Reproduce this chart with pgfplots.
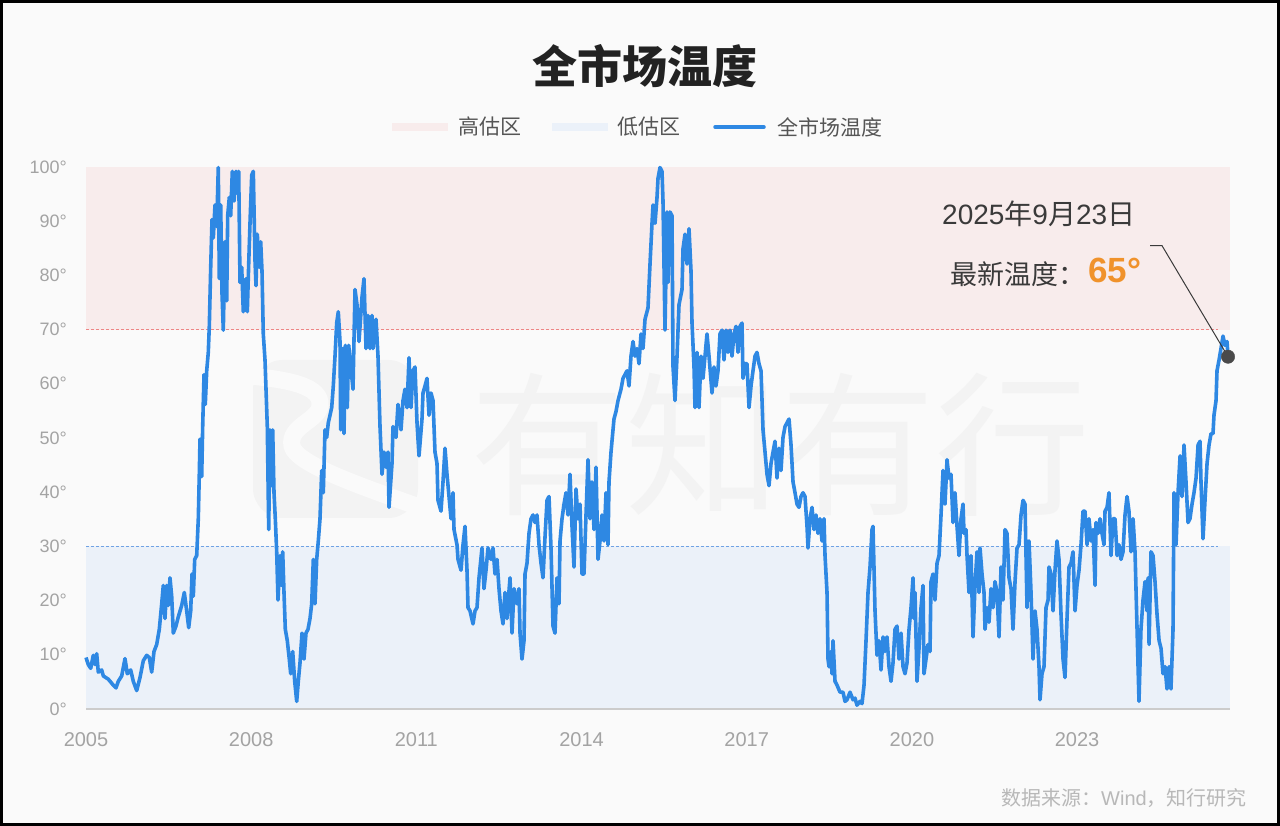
\documentclass[border=0pt]{standalone}
\usepackage{pgfplots}
\pgfplotsset{compat=1.18}
\usepackage{fontspec}
\setmainfont{Liberation Sans}
\newfontfamily\cjk{Noto Sans CJK SC}
\definecolor{bgc}{HTML}{FAFAFA}
\definecolor{pinkz}{HTML}{F8ECEC}
\definecolor{bluez}{HTML}{EBF1F9}
\definecolor{lineb}{HTML}{2E88E3}
\definecolor{redd}{HTML}{EE8585}
\definecolor{blued}{HTML}{6FA2E4}
\definecolor{tickc}{HTML}{A3A3A3}
\definecolor{legc}{HTML}{555555}
\definecolor{titc}{HTML}{222222}
\definecolor{orng}{HTML}{F0922B}
\definecolor{annc}{HTML}{3A3A3A}
\definecolor{wmc}{HTML}{F3F3F3}
\definecolor{srcc}{HTML}{B8B8B8}
\definecolor{dotc}{HTML}{4A4A4A}
\definecolor{basec}{HTML}{CCCCCC}
\begin{document}
\begin{tikzpicture}[x=1pt,y=1pt]
\useasboundingbox (0,0) rectangle (1280,826);
\fill[bgc] (0,0) rectangle (1280,826);
% watermark
\fill[wmc, rounded corners=30pt] (253,308) rectangle (418,466);
\draw[bgc, line width=17pt] (250,450) .. controls (290,446) and (322,440) .. (320,420) .. controls (318,405) and (288,400) .. (292,380) .. controls (296,362) and (360,340) .. (422,318);
\node[font=\cjk\fontsize{155}{155}\selectfont, text=wmc, inner sep=0pt] at (780,381) {有知有行};
% title
\node[font=\cjk\bfseries\fontsize{45}{45}\selectfont, text=titc] at (645,760) {全市场温度};
% legend
\fill[pinkz] (392,695) rectangle (448,703);
\node[anchor=west, font=\cjk\fontsize{21}{21}\selectfont, text=legc, inner sep=0pt] at (458,699) {高估区};
\fill[bluez] (552,695) rectangle (608,703);
\node[anchor=west, font=\cjk\fontsize{21}{21}\selectfont, text=legc, inner sep=0pt] at (617,699) {低估区};
\draw[lineb, line width=3.5pt, line cap=round] (715,699) -- (764,699);
\node[anchor=west, font=\cjk\fontsize{21}{21}\selectfont, text=legc, inner sep=0pt] at (777,699) {全市场温度};
\begin{axis}[
  at={(86pt,117pt)}, anchor=south west,
  scale only axis, width=1144pt, height=542pt,
  xmin=2005, xmax=2025.777, ymin=0, ymax=100,
  clip=false,
  axis line style={draw=none},
  major tick length=0pt,
  xtick={2005,2008,2011,2014,2017,2020,2023},
  xticklabels={2005,2008,2011,2014,2017,2020,2023},
  ytick={0,10,20,30,40,50,60,70,80,90,100},
  yticklabels={0°,10°,20°,30°,40°,50°,60°,70°,80°,90°,100°},
  xticklabel style={font=\fontsize{20}{20}\selectfont, text=tickc, anchor=north, inner sep=0pt, yshift=-23pt},
  yticklabel style={font=\fontsize{18}{18}\selectfont, text=tickc, anchor=east, inner sep=0pt, xshift=-19pt},
]
\fill[pinkz] (axis cs:2005,70) rectangle (axis cs:2025.777,100);
\fill[bluez] (axis cs:2005,0) rectangle (axis cs:2025.777,30);
\draw[redd, line width=1pt, dash pattern=on 3pt off 2pt] (axis cs:2005,70) -- (axis cs:2025.56,70);
\draw[blued, line width=1pt, dash pattern=on 3pt off 2pt] (axis cs:2005,30) -- (axis cs:2025.56,30);
\draw[basec, line width=1.5pt] (axis cs:2005,0) -- (axis cs:2025.777,0);
\addplot[lineb, line width=3.6pt, line join=round, no marks] table[x expr=2005+(\thisrow{px}-86)/55.06, y=v] {
px v
86 9.5
88.3 8.2
90.7 7.5
93.3 9.9
95 8.2
96.7 10.2
98.3 6.8
101.7 7.2
103.3 6.1
108.3 5.5
113.3 4.4
116 3.9
118.3 5.1
121.7 6.1
125 9.3
127.3 6.5
130.7 7.2
133.3 5.1
136.7 3.4
140 5.8
143.3 8.9
146.7 9.9
149.3 9.5
151.7 6.8
154 10.6
156.7 11.9
159.3 14.7
161.7 19.4
163.3 22.8
165 16.7
166.7 22.8
168.3 19.1
170 24.2
171.7 20.8
173.3 14.0
176 15.3
178.3 17.0
181.7 19.1
184.3 21.5
186.7 18.1
188.7 15.0
190.7 18.1
192 24.9
193.3 20.8
194.7 27.6
196.7 28.3
198.3 35.1
199.3 43.3
200 49.8
201.7 42.9
202.7 52.1
204 61.7
205.3 56.2
206.7 62.4
208.3 65.8
209.3 70.6
210.7 81.5
212 90.3
213.3 86.9
215 93.0
216.7 89.0
218.3 99.9
219.3 79.4
220.7 93.0
222 76.7
223.3 69.9
225 86.2
226.7 75.3
227.7 91.0
229.3 94.4
230.7 91.0
232.3 99.2
234 93.7
236 99.2
237.3 95.1
238.7 99.2
240 78.7
241.7 81.5
243.3 73.3
246 79.4
247.3 73.3
248.7 82.1
250 89.6
251.7 98.5
253.3 99.2
255 82.8
256 78.1
257.3 87.6
259.3 81.5
260.7 86.2
262 80.8
263.3 69.2
265 64.4
266 59.0
267.3 52.1
268.7 33.1
270 51.5
271.3 41.2
272.7 51.5
274 39.9
275.3 35.1
276.7 29.0
278 20.1
280 28.3
281.3 22.8
282.7 29.0
284 21.5
285.3 14.7
287.3 12.6
289.3 9.2
290.7 6.5
292.7 10.6
294.7 5.1
296.7 1.4
298.3 5.1
300 8.5
302 14.0
304 9.2
306 14.0
308 14.7
310 16.7
311.7 19.4
313.3 27.6
315 19.4
316.7 27.6
318.3 31.0
320 35.1
321.7 44.0
323.3 39.9
325 51.5
326.7 50.1
328.3 52.8
330 54.2
331.7 55.6
333.3 59.6
335 65.1
336.7 71.2
338.3 73.3
340 67.8
340.7 51.5
342.7 66.5
344 50.8
345.3 67.1
347.3 55.6
348.7 67.1
353 59.0
355 77.4
357 74.6
359 67.8
362 76.0
364 79.4
366 66.5
368 72.6
370 66.5
372 72.6
373 66.5
376 71.9
378 65.1
380 52.1
382 43.3
384 47.4
386 44.6
388 47.4
389 37.2
392 45.3
393 52.1
396 50.1
398 56.2
401 51.5
403 56.9
405 59.0
407 55.6
409 64.8
411 55.6
413 62.4
415 63.1
417 52.8
419 46.7
422 53.5
423 58.3
425 59.6
427 61.0
429 54.2
431 58.3
433 56.9
435 47.4
437 45.3
438 38.5
441 36.5
443 41.9
445 48.1
447 43.3
449 39.2
451 35.1
453 39.9
454 33.1
457 30.3
458 27.6
461 25.6
463 30.3
465 33.7
467 25.6
468 18.7
470 18.1
473 15.7
475 18.1
477 18.7
479 24.2
482 29.7
484 22.2
486 25.6
488 29.7
491 27.6
493 29.7
495 24.9
497 27.6
499 22.2
501 18.1
503 15.7
505 21.5
507 16.7
508 19.4
510 24.2
512 14.0
514 22.2
517 19.4
519 22.2
520 14.0
522 9.2
524 12.6
525 24.9
527 26.9
529 32.4
531 35.1
533 35.8
535 34.4
537 35.8
539 30.3
541 26.9
543 24.2
545 31.7
547 38.5
549 39.2
551 29.7
553 15.3
555 14.0
557 24.2
559 19.4
560 31.0
562 35.1
564 37.8
566 39.9
568 35.8
570 43.3
572 33.7
574 26.2
576 40.6
578 35.1
580 37.8
582 24.9
584 24.9
586 35.8
588 46.0
590 35.1
592 41.9
594 33.1
596 44.6
598 27.6
600 31.0
602 35.8
604 31.0
606 39.9
608 30.3
609 41.9
611 47.4
613 51.5
614 53.5
616 54.9
618 56.9
621 59.0
623 61.0
625 61.7
627 62.4
629 59.6
631 65.1
633 67.8
635 65.1
637 66.5
639 63.7
641 69.2
643 66.5
645 71.9
647 73.3
648 74.0
650 82.1
652 89.6
653 93.0
655 89.6
657 94.4
658 97.9
660 99.9
662 99.2
663 93.7
665 69.9
667 91.7
668 78.7
670 91.7
672 91.0
673 63.1
675 56.9
677 65.1
679 74.6
682 77.4
683 84.9
685 87.6
687 82.1
689 88.6
691 80.8
692 71.2
694 63.1
695 55.6
697 65.8
699 55.6
701 65.1
703 61.0
705 65.1
707 69.2
709 65.1
712 58.3
714 63.1
716 59.6
718 62.4
720 69.2
722 69.9
724 64.4
726 69.9
728 65.8
730 69.9
732 65.1
734 69.2
736 70.6
738 65.8
740 70.6
742 71.2
743 61.0
745 63.7
747 63.7
749 55.6
751 59.6
753 62.4
755 65.1
757 65.8
759 63.7
761 62.4
763 51.5
765 47.4
767 43.3
769 41.2
771 45.3
773 47.4
775 49.4
777 42.6
779 48.1
781 44.0
783 50.1
785 52.1
787 52.8
789 53.5
791 48.7
793 41.9
795 39.9
797 37.8
799 37.2
801 39.2
803 39.9
805 39.2
807 33.7
808 29.7
810 35.1
812 37.2
814 33.1
816 35.8
818 32.4
820 35.1
822 31.0
824 35.1
825 28.3
827 21.5
828 9.2
829 7.8
831 10.6
832 6.5
833 12.6
835 5.1
837 4.4
840 3.1
843 3.1
845 1.4
847 1.7
850 3.1
853 1.7
855 2.0
857 0.7
860 1.4
862 1.0
864 4.4
866 12.6
868 21.5
870 26.2
872 33.1
873 33.7
875 18.1
877 9.9
879 12.6
881 7.2
883 13.3
885 10.6
887 13.3
889 7.8
891 5.1
893 8.5
895 14.7
897 15.3
899 9.2
901 14.0
903 7.8
905 6.5
907 8.5
909 14.7
911 18.7
913 24.2
914 16.7
915 21.5
917 5.1
919 11.2
921 18.7
923 22.8
924 6.5
926 9.2
928 11.9
930 10.6
931 23.5
933 24.9
935 20.1
937 26.9
939 28.3
941 35.8
943 44.0
945 37.8
947 46.0
949 42.6
951 43.3
953 34.4
955 39.9
957 33.7
959 28.3
961 35.1
963 37.8
964 32.4
966 33.1
967 28.3
969 21.5
971 28.3
973 13.3
975 22.8
977 29.0
979 21.5
980 29.7
982 24.9
984 21.5
985 14.7
987 18.7
989 16.0
991 22.2
993 18.7
995 23.5
997 21.5
999 13.3
1001 26.2
1003 20.1
1005 33.1
1007 32.4
1009 24.2
1011 22.2
1013 14.7
1015 23.5
1017 29.7
1019 30.3
1021 35.8
1023 38.5
1025 37.8
1027 18.7
1029 31.0
1031 21.5
1033 9.2
1035 18.1
1037 14.7
1039 7.8
1040 1.7
1042 6.5
1044 7.8
1046 18.7
1048 20.1
1049 26.2
1051 24.9
1053 18.1
1055 25.6
1057 31.0
1059 27.6
1061 17.4
1063 9.2
1065 5.8
1067 16.7
1069 26.2
1071 26.9
1073 29.0
1075 18.1
1077 22.8
1079 25.6
1081 30.3
1083 36.5
1085 36.5
1087 30.3
1089 35.1
1091 31.0
1093 33.1
1095 22.8
1096 34.4
1098 32.4
1100 35.1
1102 32.4
1104 30.3
1105 36.5
1107 37.2
1109 39.9
1111 28.3
1113 35.1
1115 35.1
1117 28.3
1119 30.3
1121 27.6
1123 29.0
1125 35.8
1127 39.2
1129 36.5
1131 29.0
1133 35.1
1135 29.0
1137 14.7
1139 1.4
1141 14.7
1143 20.1
1145 23.5
1147 18.1
1148 24.2
1149 11.9
1151 29.0
1153 28.3
1155 23.5
1157 17.4
1159 12.6
1161 11.2
1163 6.5
1165 7.8
1167 3.7
1169 7.8
1171 3.7
1173 14.7
1174 39.9
1176 30.3
1178 39.9
1180 46.7
1182 39.2
1184 48.7
1186 41.9
1188 34.4
1190 35.1
1192 37.8
1194 39.9
1196 42.6
1198 48.7
1200 49.4
1201 41.9
1203 31.4
1205 38.5
1207 45.3
1209 48.7
1211 50.8
1213 50.8
1214 54.2
1216 56.9
1217 62.4
1219 64.4
1221 66.5
1223 68.8
1225 67.1
1227 67.8
1228 65.0
};
\draw[annc, line width=1pt] (axis cs:2025.741,65) -- ++(-66pt,111pt) -- ++(-12pt,0pt);
\addplot[only marks, mark=*, mark size=6.7pt, color=dotc] coordinates {(2025.741,65)};
\end{axis}
% annotation
\node[anchor=base west, font=\fontsize{28}{28}\selectfont, text=annc, inner sep=0pt] at (942,601) {2025{\cjk 年}9{\cjk 月}23{\cjk 日}};
\node[anchor=base west, font=\cjk\fontsize{27}{27}\selectfont, text=annc, inner sep=0pt] at (950,541) {最新温度：};
\node[anchor=base west, font=\bfseries\fontsize{35}{35}\selectfont, text=orng, inner sep=0pt] at (1088,543) {65°};
% source
\node[anchor=base east, font=\fontsize{20}{20}\selectfont, text=srcc, inner sep=0pt] at (1247,20) {{\cjk 数据来源：}Wind{\cjk ，知行研究}};
% frame
\draw[black, line width=3pt] (1.5,1.5) rectangle (1278.5,824.5);
\end{tikzpicture}
\end{document}
